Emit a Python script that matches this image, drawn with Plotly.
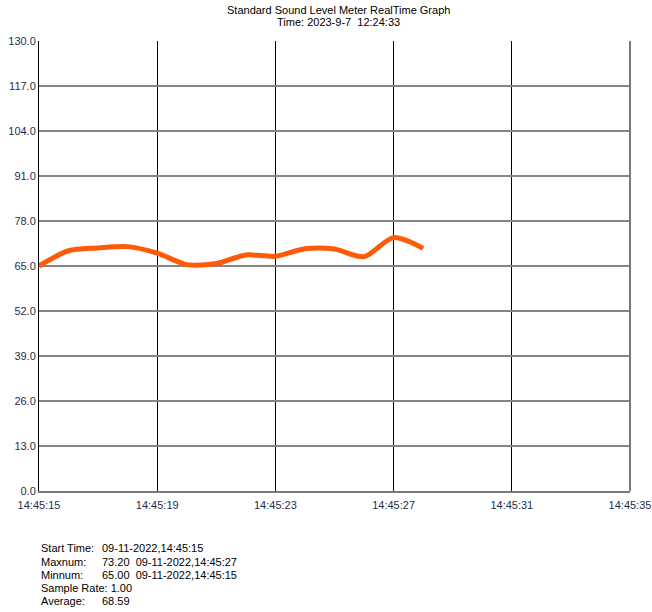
import plotly.graph_objects as go

# ---- data ----
times = ["2022-09-11 14:45:15", "2022-09-11 14:45:16", "2022-09-11 14:45:17",
         "2022-09-11 14:45:18", "2022-09-11 14:45:19", "2022-09-11 14:45:20",
         "2022-09-11 14:45:21", "2022-09-11 14:45:22", "2022-09-11 14:45:23",
         "2022-09-11 14:45:24", "2022-09-11 14:45:25", "2022-09-11 14:45:26",
         "2022-09-11 14:45:27", "2022-09-11 14:45:28"]
levels = [65.0, 69.4, 70.2, 70.6, 68.7, 65.4, 65.7, 68.2, 67.8, 70.0, 69.9, 67.7, 73.2, 70.1]

x_range = ["2022-09-11 14:45:15", "2022-09-11 14:45:35"]
y_ticks = [0, 13, 26, 39, 52, 65, 78, 91, 104, 117, 130]

title_line1 = "Standard Sound Level Meter RealTime Graph"
title_line2 = "Time: 2023-9-7\u00a0 12:24:33"

info_labels = ["Start Time:", "Maxnum:", "Minnum:", "Sample Rate: 1.00", "Average:"]
info_values = ["09-11-2022,14:45:15", "73.20\u00a0 09-11-2022,14:45:27",
               "65.00\u00a0 09-11-2022,14:45:15", "", "68.59"]

# ---- geometry (page pixels) ----
W, H = 652, 612
L, R, T, B = 39, 630, 41, 491


def px_x(p):
    return (p - L) / (R - L)


def px_y(p):
    return (B - p) / (B - T)


fig = go.Figure()
fig.add_trace(go.Scatter(x=times, y=levels, mode="lines",
                         line=dict(color="#3a3aff", width=1), hoverinfo="skip"))
fig.add_trace(go.Scatter(x=times, y=levels, mode="lines",
                         line=dict(color="#ff5a0a", width=5, shape="spline", smoothing=0.8)))

fig.update_layout(
    width=W, height=H,
    margin=dict(l=L, r=W - R, t=T, b=H - B, pad=0, autoexpand=False),
    paper_bgcolor="white", plot_bgcolor="white",
    showlegend=False,
    font=dict(family="Liberation Sans, Arial, sans-serif", size=11, color="black"),
    xaxis=dict(type="date", range=x_range, dtick=4000, tick0=x_range[0],
               tickformat="%H:%M:%S", showgrid=True, gridcolor="black", gridwidth=1,
               showline=True, linecolor="#7a7a7a", linewidth=2, automargin=False,
               ticks="", ticklabelstandoff=3, zeroline=False,
               tickfont=dict(size=11, color="#1f2d4d")),
    yaxis=dict(range=[0, 130], tickvals=y_ticks, tickformat=".1f",
               showgrid=True, gridcolor="#868686", gridwidth=2,
               showline=True, linecolor="black", linewidth=1, automargin=False,
               ticks="", ticklabelstandoff=0, zeroline=False,
               tickfont=dict(size=11, color="#1f2d4d")),
)

# right border
fig.add_shape(type="line", xref="paper", yref="paper", x0=1, x1=1, y0=0, y1=1,
              line=dict(color="#7a7a7a", width=2))

# title lines
for txt, py in [(title_line1, 10), (title_line2, 22)]:
    fig.add_annotation(text=txt, xref="paper", yref="paper",
                       x=px_x(338), y=px_y(py), xanchor="center", yanchor="middle",
                       showarrow=False, font=dict(size=11, color="black"))

# info block
row_y = [548, 562, 575, 588, 601]
for lab, val, py in zip(info_labels, info_values, row_y):
    fig.add_annotation(text=lab, xref="paper", yref="paper",
                       x=px_x(39), y=px_y(py),
                       xanchor="left", yanchor="middle", showarrow=False,
                       font=dict(size=11, color="black"))
    if val:
        fig.add_annotation(text=val, xref="paper", yref="paper",
                           x=px_x(100), y=px_y(py),
                           xanchor="left", yanchor="middle", showarrow=False,
                           font=dict(size=11, color="black"))

fig.write_html("out.html",
               config={"displayModeBar": False},
               post_script="document.body.style.margin='0';"
                           "document.body.style.overflow='hidden';")
